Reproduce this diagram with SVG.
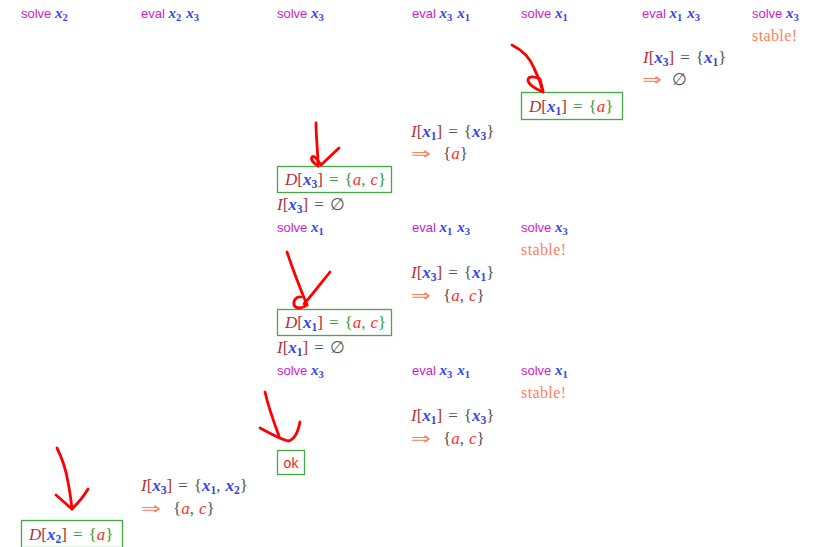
<svg xmlns="http://www.w3.org/2000/svg" width="816" height="547" viewBox="0 0 816 547">
<style>
.lab{font-family:"Liberation Sans","DejaVu Sans",sans-serif;font-size:13px;fill:#cc22cc}
.lab .v{font-size:15px}
.lab .s{font-size:10.5px}
.m{font-family:"Liberation Serif","DejaVu Serif",serif;font-size:17px;fill:#555555}
.v{font-family:"Liberation Serif","DejaVu Serif",serif;fill:#3344ee;font-style:italic;font-weight:bold}
.s{font-size:11.5px;font-style:normal}
.r{fill:#b03535;font-style:italic}
.br{fill:#b03535}
.e{fill:#ff3030;font-style:italic}
.g{fill:#33a033}
.st{font-family:"Liberation Serif","DejaVu Serif",serif;font-size:16px;fill:#ff8060;letter-spacing:0.4px}
.imp{fill:#ff8060;font-family:"DejaVu Sans",sans-serif;font-size:17px}
.box{fill:#ffffff;stroke:#44aa44;stroke-width:1.3}
.ok{font-family:"Liberation Sans","DejaVu Sans",sans-serif;font-size:14px;fill:#ff2020}
.arr{fill:none;stroke:#ff0000;stroke-width:2.8;stroke-linecap:round;stroke-linejoin:round}
</style>

<g id="row1">
<text class="lab" x="21" y="17.5">solve <tspan class="v">x</tspan><tspan class="v s" dy="3">2</tspan></text>
<text class="lab" x="141" y="17.5">eval <tspan class="v">x</tspan><tspan class="v s" dy="3">2</tspan><tspan class="v" dy="-3" dx="5">x</tspan><tspan class="v s" dy="3">3</tspan></text>
<text class="lab" x="277" y="17.5">solve <tspan class="v">x</tspan><tspan class="v s" dy="3">3</tspan></text>
<text class="lab" x="412" y="17.5">eval <tspan class="v">x</tspan><tspan class="v s" dy="3">3</tspan><tspan class="v" dy="-3" dx="5">x</tspan><tspan class="v s" dy="3">1</tspan></text>
<text class="lab" x="521" y="17.5">solve <tspan class="v">x</tspan><tspan class="v s" dy="3">1</tspan></text>
<text class="lab" x="642" y="17.5">eval <tspan class="v">x</tspan><tspan class="v s" dy="3">1</tspan><tspan class="v" dy="-3" dx="5">x</tspan><tspan class="v s" dy="3">3</tspan></text>
<text class="lab" x="752" y="17.5">solve <tspan class="v">x</tspan><tspan class="v s" dy="3">3</tspan></text>
<text class="st" x="752" y="41">stable!</text>
</g>

<g id="eval-x1-x3-top">
<text class="m" x="643" y="63"><tspan class="r">I</tspan><tspan class="br">[</tspan><tspan class="v">x</tspan><tspan class="v s" dy="3">3</tspan><tspan class="br" dy="-3">]</tspan><tspan dx="6">=</tspan><tspan dx="6">{</tspan><tspan class="v">x</tspan><tspan class="v s" dy="3">1</tspan><tspan dy="-3">}</tspan></text>
<text class="imp" transform="translate(642,85) scale(1.4,1)">⇒</text>
<text class="m" x="672" y="85">∅</text>
</g>

<g id="node-Dx1-a">
<rect class="box" x="521.5" y="92.5" width="101" height="27"/>
<text class="m" x="529" y="111.5"><tspan class="r">D</tspan><tspan class="br">[</tspan><tspan class="v">x</tspan><tspan class="v s" dy="3">1</tspan><tspan class="br" dy="-3">]</tspan><tspan class="g" dx="6">=</tspan><tspan class="g" dx="6">{</tspan><tspan class="e">a</tspan><tspan class="g">}</tspan></text>
</g>

<g id="eval-x3-x1-top">
<text class="m" x="411" y="137"><tspan class="r">I</tspan><tspan class="br">[</tspan><tspan class="v">x</tspan><tspan class="v s" dy="3">1</tspan><tspan class="br" dy="-3">]</tspan><tspan dx="6">=</tspan><tspan dx="6">{</tspan><tspan class="v">x</tspan><tspan class="v s" dy="3">3</tspan><tspan dy="-3">}</tspan></text>
<text class="imp" transform="translate(411,159) scale(1.4,1)">⇒</text>
<text class="m" x="443" y="159">{<tspan class="e">a</tspan>}</text>
</g>

<g id="node-Dx3-ac">
<rect class="box" x="277.5" y="166.5" width="114" height="26"/>
<text class="m" x="285" y="184.5"><tspan class="r">D</tspan><tspan class="br">[</tspan><tspan class="v">x</tspan><tspan class="v s" dy="3">3</tspan><tspan class="br" dy="-3">]</tspan><tspan class="g" dx="6">=</tspan><tspan class="g" dx="6">{</tspan><tspan class="e">a</tspan><tspan class="g">,</tspan><tspan class="e" dx="5">c</tspan><tspan class="g">}</tspan></text>
</g>

<g id="row2">
<text class="m" x="277" y="210"><tspan class="r">I</tspan><tspan class="br">[</tspan><tspan class="v">x</tspan><tspan class="v s" dy="3">3</tspan><tspan class="br" dy="-3">]</tspan><tspan dx="6">=</tspan><tspan dx="6">∅</tspan></text>
<text class="lab" x="277" y="232">solve <tspan class="v">x</tspan><tspan class="v s" dy="3">1</tspan></text>
<text class="lab" x="412" y="232">eval <tspan class="v">x</tspan><tspan class="v s" dy="3">1</tspan><tspan class="v" dy="-3" dx="5">x</tspan><tspan class="v s" dy="3">3</tspan></text>
<text class="lab" x="521" y="232">solve <tspan class="v">x</tspan><tspan class="v s" dy="3">3</tspan></text>
<text class="st" x="521" y="255">stable!</text>
<text class="m" x="411" y="278"><tspan class="r">I</tspan><tspan class="br">[</tspan><tspan class="v">x</tspan><tspan class="v s" dy="3">3</tspan><tspan class="br" dy="-3">]</tspan><tspan dx="6">=</tspan><tspan dx="6">{</tspan><tspan class="v">x</tspan><tspan class="v s" dy="3">1</tspan><tspan dy="-3">}</tspan></text>
<text class="imp" transform="translate(411,301) scale(1.4,1)">⇒</text>
<text class="m" x="443" y="301">{<tspan class="e">a</tspan>,<tspan class="e" dx="5">c</tspan>}</text>
</g>

<g id="node-Dx1-ac">
<rect class="box" x="277.5" y="309.5" width="114" height="26"/>
<text class="m" x="285" y="327.5"><tspan class="r">D</tspan><tspan class="br">[</tspan><tspan class="v">x</tspan><tspan class="v s" dy="3">1</tspan><tspan class="br" dy="-3">]</tspan><tspan class="g" dx="6">=</tspan><tspan class="g" dx="6">{</tspan><tspan class="e">a</tspan><tspan class="g">,</tspan><tspan class="e" dx="5">c</tspan><tspan class="g">}</tspan></text>
</g>

<g id="row3">
<text class="m" x="277" y="353"><tspan class="r">I</tspan><tspan class="br">[</tspan><tspan class="v">x</tspan><tspan class="v s" dy="3">1</tspan><tspan class="br" dy="-3">]</tspan><tspan dx="6">=</tspan><tspan dx="6">∅</tspan></text>
<text class="lab" x="277" y="375">solve <tspan class="v">x</tspan><tspan class="v s" dy="3">3</tspan></text>
<text class="lab" x="412" y="375">eval <tspan class="v">x</tspan><tspan class="v s" dy="3">3</tspan><tspan class="v" dy="-3" dx="5">x</tspan><tspan class="v s" dy="3">1</tspan></text>
<text class="lab" x="521" y="375">solve <tspan class="v">x</tspan><tspan class="v s" dy="3">1</tspan></text>
<text class="st" x="521" y="398">stable!</text>
<text class="m" x="411" y="421"><tspan class="r">I</tspan><tspan class="br">[</tspan><tspan class="v">x</tspan><tspan class="v s" dy="3">1</tspan><tspan class="br" dy="-3">]</tspan><tspan dx="6">=</tspan><tspan dx="6">{</tspan><tspan class="v">x</tspan><tspan class="v s" dy="3">3</tspan><tspan dy="-3">}</tspan></text>
<text class="imp" transform="translate(411,444) scale(1.4,1)">⇒</text>
<text class="m" x="443" y="444">{<tspan class="e">a</tspan>,<tspan class="e" dx="5">c</tspan>}</text>
</g>

<g id="node-ok">
<rect class="box" x="277.5" y="450.5" width="27" height="24"/>
<text class="ok" x="291" y="467.5" text-anchor="middle">ok</text>
</g>

<g id="eval-x2-x3">
<text class="m" x="141" y="491"><tspan class="r">I</tspan><tspan class="br">[</tspan><tspan class="v">x</tspan><tspan class="v s" dy="3">3</tspan><tspan class="br" dy="-3">]</tspan><tspan dx="6">=</tspan><tspan dx="6">{</tspan><tspan class="v">x</tspan><tspan class="v s" dy="3">1</tspan><tspan dy="-3">,</tspan><tspan class="v" dx="5">x</tspan><tspan class="v s" dy="3">2</tspan><tspan dy="-3">}</tspan></text>
<text class="imp" transform="translate(141,514) scale(1.4,1)">⇒</text>
<text class="m" x="173" y="514">{<tspan class="e">a</tspan>,<tspan class="e" dx="5">c</tspan>}</text>
</g>

<g id="node-Dx2-a">
<rect class="box" x="21.5" y="520.5" width="101" height="27"/>
<text class="m" x="29" y="539.5"><tspan class="r">D</tspan><tspan class="br">[</tspan><tspan class="v">x</tspan><tspan class="v s" dy="3">2</tspan><tspan class="br" dy="-3">]</tspan><tspan class="g" dx="6">=</tspan><tspan class="g" dx="6">{</tspan><tspan class="e">a</tspan><tspan class="g">}</tspan></text>
</g>

<g id="connectors">
<path class="arr" d="M512,45 C522,50 530,58 534,68 C538,76 541,84 543,92"/>
<path class="arr" d="M543,92 C536,89 528,85 528,80 C528,75 536,77 540,79 L543,91"/>
<path class="arr" d="M316,123 C316,137 318,152 318,166"/>
<path class="arr" d="M318,166 C314,163 310,160 312,157 C314,155 318,160 321,165 L339,148"/>
<path class="arr" d="M287,252 C293,270 300,288 307,305"/>
<path class="arr" d="M307,305 C302,309 296,309 294,305 C293,300 297,296 301,297"/>
<path class="arr" d="M304,304 C312,295 322,282 330,272"/>
<path class="arr" d="M265,392 C268,405 273,420 279,436"/>
<path class="arr" d="M260,428 C268,432 278,438 288,441 C295,440 298,432 300,422"/>
<path class="arr" d="M57,448 C62,458 66,470 68,482 C70,492 71,500 72,509"/>
<path class="arr" d="M56,495 C62,500 67,505 72,509 C78,503 84,496 88,489"/>
</g>
</svg>
